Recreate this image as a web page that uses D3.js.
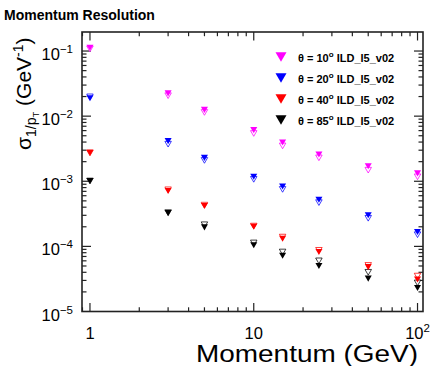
<!DOCTYPE html>
<html>
<head>
<meta charset="utf-8">
<script src="https://cdn.jsdelivr.net/npm/d3@7"></script>
<style>
  body { margin: 0; background: #fff; }
  svg { display: block; }
  text { font-family: "Liberation Sans", Arial, Helvetica, sans-serif; fill: #000; }
</style>
</head>
<body>
<svg id="chart" width="437" height="366"></svg>
<script>
// Beam momenta (GeV)
const momenta = [1, 3, 5, 10, 15, 25, 50, 100];
// Polar angles of the tracks
const angles = ["10", "20", "40", "85"];
const colors = ["#ff00ff", "#0000ff", "#ff0000", "#000000"];
const detector = "ILD_l5_v02";

// sigma(1/pT) in GeV^-1, filled markers
const filled10 = [0.112, 0.0224, 0.0125, 0.0061, 0.00394, 0.00257, 0.0017, 0.00132];
const filled20 = [0.0188, 0.00413, 0.00229, 0.00117, 0.00083, 0.00052, 0.00030, 0.000166];
const filled40 = [0.00273, 0.00071, 0.000417, 0.00020, 0.000131, 0.000082, 0.000048, 0.000031];
const filled85 = [0.00101, 0.000324, 0.000196, 0.000104, 0.000072, 0.000050, 0.000032, 0.000023];

// sigma(1/pT) in GeV^-1, open markers
const open10 = [0.108, 0.0206, 0.0114, 0.00542, 0.00349, 0.00229, 0.00148, 0.00117];
const open20 = [0.0198, 0.00371, 0.00209, 0.00107, 0.00075, 0.00047, 0.00027, 0.000151];
const open40 = [0.00273, 0.00074, 0.00043, 0.000205, 0.000139, 0.000087, 0.000051, 0.000035];
const open85 = [0.00101, 0.00033, 0.000215, 0.000113, 0.000082, 0.000060, 0.000040, 0.0000275];

// Axis ranges and tick labels
const xDomain = [0.894, 108];
const yDomain = [1e-5, 0.196];
const xTickLabels = [{v: 1, base: "1", exp: ""}, {v: 10, base: "10", exp: ""}, {v: 100, base: "10", exp: "2"}];
const yTickLabels = [{v: 1e-1, exp: "\u22121"}, {v: 1e-2, exp: "\u22122"}, {v: 1e-3, exp: "\u22123"}, {v: 1e-4, exp: "\u22124"}, {v: 1e-5, exp: "\u22125"}];

const filledSets = [filled10, filled20, filled40, filled85];
const openSets = [open10, open20, open40, open85];

const svg = d3.select("#chart");
const frame = {left: 82, right: 423, top: 32, bottom: 311.5};

const x = d3.scaleLog().domain(xDomain).range([frame.left, frame.right]);
const y = d3.scaleLog().domain(yDomain).range([frame.bottom, frame.top]);

// Title
svg.append("text")
  .attr("x", 4).attr("y", 20)
  .attr("font-size", 14).attr("font-weight", "bold")
  .text("Momentum Resolution");

// Ticks (inside the frame, on all four sides)
function logTicks(domain) {
  const out = [];
  for (let e = -6; e <= 3; e++) {
    for (let m = 1; m <= 9; m++) {
      const v = m * Math.pow(10, e);
      if (v >= domain[0] * 1.0001 && v <= domain[1] * 0.9999) out.push({v, major: m === 1});
    }
  }
  return out;
}
const tickG = svg.append("g").attr("stroke", "#222").attr("stroke-width", 1.2);
logTicks(xDomain).forEach(t => {
  const px = x(t.v), len = t.major ? 8.5 : 4.2;
  tickG.append("line").attr("x1", px).attr("x2", px).attr("y1", frame.bottom).attr("y2", frame.bottom - len);
  tickG.append("line").attr("x1", px).attr("x2", px).attr("y1", frame.top).attr("y2", frame.top + len);
});
logTicks(yDomain).forEach(t => {
  const py = y(t.v), len = t.major ? 9 : 4.5;
  tickG.append("line").attr("y1", py).attr("y2", py).attr("x1", frame.left).attr("x2", frame.left + len);
  tickG.append("line").attr("y1", py).attr("y2", py).attr("x1", frame.right).attr("x2", frame.right - len);
});

// Frame
svg.append("rect")
  .attr("x", frame.left).attr("y", frame.top)
  .attr("width", frame.right - frame.left).attr("height", frame.bottom - frame.top)
  .attr("fill", "none").attr("stroke", "#222").attr("stroke-width", 1.6);

// Y tick labels
yTickLabels.forEach(t => {
  const tx = svg.append("text")
    .attr("x", 73).attr("y", y(t.v) + 9)
    .attr("text-anchor", "end").attr("font-size", 16.5);
  tx.append("tspan").text("10");
  tx.append("tspan").attr("font-size", 11.5).attr("dy", -7).text(t.exp);
});

// X tick labels
xTickLabels.forEach(t => {
  const tx = svg.append("text")
    .attr("x", x(t.v)).attr("y", 338.5)
    .attr("text-anchor", "middle").attr("font-size", 16.5);
  tx.append("tspan").text(t.base);
  if (t.exp) tx.append("tspan").attr("font-size", 11.5).attr("dy", -7).text(t.exp);
});

// X axis title
svg.append("text")
  .attr("x", 196).attr("y", 362)
  .attr("font-size", 23.5)
  .attr("textLength", 222).attr("lengthAdjust", "spacingAndGlyphs")
  .text("Momentum (GeV)");

// Y axis title: sigma_{1/p_T} (GeV^-1)
const yt = svg.append("text")
  .attr("transform", "translate(31,150) rotate(-90)")
  .attr("font-size", 21);
yt.append("tspan").text("\u03c3");
yt.append("tspan").attr("font-size", 14).attr("dy", 5).text("1/p");
yt.append("tspan").attr("font-size", 9.5).attr("dy", 3).text("T");
yt.append("tspan").attr("dy", -8).text(" (GeV");
yt.append("tspan").attr("font-size", 14).attr("dy", -8).text("-1");
yt.append("tspan").attr("dy", 8).text(")");

// Marker shapes: downward triangles
function tri(s) {
  const h = s * 0.87;
  return `M${-s / 2},${-h / 2}L${s / 2},${-h / 2}L0,${h / 2}Z`;
}

const markG = svg.append("g");
openSets.forEach((vals, i) => {
  markG.selectAll(null).data(vals.map((v, j) => ({p: momenta[j], v})))
    .enter().append("path")
    .attr("d", tri(6.5))
    .attr("transform", d => `translate(${x(d.p)},${y(d.v)})`)
    .attr("fill", "#fff").attr("stroke", colors[i]).attr("stroke-width", 1)
    .attr("stroke-opacity", 0.75);
});
filledSets.forEach((vals, i) => {
  markG.selectAll(null).data(vals.map((v, j) => ({p: momenta[j], v})))
    .enter().append("path")
    .attr("d", tri(7))
    .attr("transform", d => `translate(${x(d.p)},${y(d.v)})`)
    .attr("fill", colors[i]);
});

// Legend
const legG = svg.append("g");
angles.forEach((a, i) => {
  const ly = 57 + i * 21;
  legG.append("path").attr("d", tri(11)).attr("transform", `translate(281,${ly})`).attr("fill", colors[i]);
  const t = legG.append("text").attr("x", 298).attr("y", ly + 4.5)
    .attr("font-size", 11).attr("font-weight", "bold");
  t.append("tspan").text(`\u03b8 = ${a}`);
  t.append("tspan").attr("font-size", 8).attr("dy", -5).text("o");
  t.append("tspan").attr("dy", 5).text(` ${detector}`);
});
</script>
</body>
</html>
